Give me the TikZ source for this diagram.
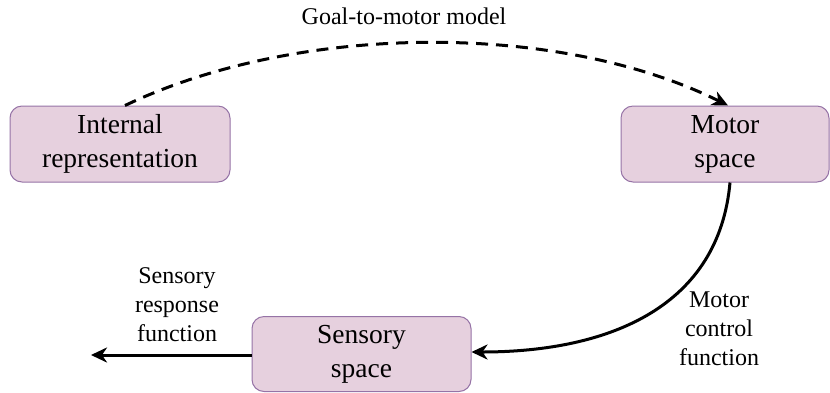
\documentclass[tikz,border=0pt]{standalone}
\usepackage{fontspec}
\setmainfont{Liberation Serif}
\usetikzlibrary{arrows.meta}
\definecolor{boxfill}{HTML}{E6D0DE}
\definecolor{boxdraw}{HTML}{9673A6}
\tikzset{
  box/.style={draw=boxdraw, fill=boxfill, line width=1pt, rounded corners=12pt,
    minimum width=#1, minimum height=76pt, inner sep=0pt, align=center,
    font=\fontsize{27.5}{34}\selectfont},
  lbl/.style={align=center, font=\fontsize{24}{29}\selectfont},
  conn/.style={line width=3pt, -{Stealth[length=16pt,width=15pt,inset=5pt]}},
  dashconn/.style={conn, dash pattern=on 12pt off 8pt}
}
\begin{document}
\begin{tikzpicture}[x=1pt,y=-1pt]
\useasboundingbox (0,0) rectangle (830,392);
\node[box=220pt] (int) at (120,144) {Internal\\representation};
\node[box=208pt] (mot) at (725,144) {Motor\\space};
\node[box=219pt, minimum height=75pt] (sen) at (361.5,354) {Sensory\\space};
\node[lbl] (g2m) at (404,16) {Goal-to-motor model};
\node[lbl] (mcf) at (719,329) {Motor\\control\\function};
\node[lbl] (srf) at (177,305) {Sensory\\response\\function};
\coordinate (srfend) at (91,355);
\draw[dashconn] ([xshift=5pt]int.north) .. controls (300,22) and (560,22) .. ([xshift=3pt]mot.north);
\draw[conn] ([xshift=5pt]mot.south) .. controls (719,305) and (612,352) .. ([yshift=2pt]sen.east);
\draw[conn] (sen.west |- srfend) -- (srfend);
\end{tikzpicture}
\end{document}
